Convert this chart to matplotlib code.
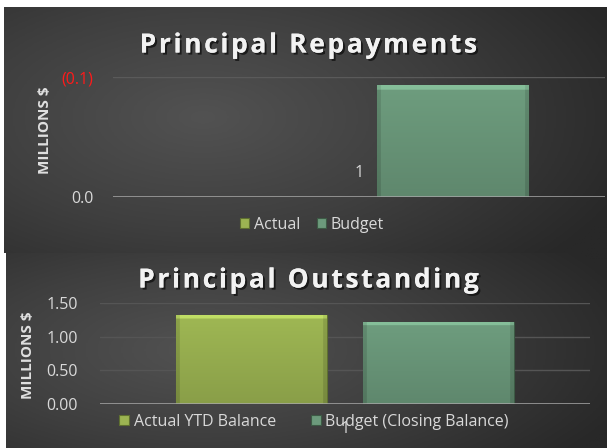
import numpy as np
import matplotlib
matplotlib.use("Agg")
import matplotlib.pyplot as plt
import matplotlib.patheffects as pe
from matplotlib.patches import Patch
from matplotlib.colors import LinearSegmentedColormap, to_rgb
from matplotlib.ticker import FuncFormatter

# ---- data (millions $) ----
categories = ["1"]
repay_series = ["Actual", "Budget"]
repay_values = [0.0, -0.0936]
outstanding_series = ["Actual YTD Balance", "Budget (Closing Balance)"]
outstanding_values = [1.32, 1.22]

lime = "#9cb452"
sage = "#6c9a7c"
bar_colors = [lime, sage]
edge_colors = ["#5f7030", "#3d5a45"]

plt.rcParams["font.family"] = ["Open Sans", "DejaVu Sans"]

W, H = 607, 448
fig = plt.figure(figsize=(W / 100, H / 100), dpi=100, facecolor="white")


def px_rect(x0, y0, x1, y1):
    # pixel box (top-left origin) -> figure fraction rect
    return [x0 / W, 1 - y1 / H, (x1 - x0) / W, (y1 - y0) / H]


def spaced(s):
    # widen the title a little, like the original's character spacing
    return "\u200a".join(s)


def panel(rect, cx, cy):
    ax = fig.add_axes(rect, zorder=0)
    ny, nx = 200, 400
    yy, xx = np.mgrid[0:1:ny * 1j, 0:1:nx * 1j]
    r = np.sqrt(((xx - cx) / 0.75) ** 2 + ((yy - cy) / 0.9) ** 2)
    cmap = LinearSegmentedColormap.from_list("bg", ["#525252", "#3f3f3f", "#282828"])
    ax.imshow(np.clip(r, 0, 1), cmap=cmap, vmin=0, vmax=1, aspect="auto",
              extent=(0, 1, 0, 1), origin="lower")
    ax.set_axis_off()
    return ax


def shade_bars(ax, bars, colors):
    for p, c in zip(bars, colors):
        h = p.get_height()
        if h == 0:
            continue
        x0, y0, w = p.get_x(), p.get_y(), p.get_width()
        ylo, yhi = min(y0, y0 + h), max(y0, y0 + h)
        ys = np.linspace(ylo, yhi, 120)
        t = np.abs(ys - y0) / abs(h)              # 0 at baseline, 1 at bar end
        u = np.linspace(0, 1, 160)
        edge = np.minimum(u, 1 - u)
        f = 0.88 + 0.14 * t[:, None] + 0 * u[None, :]
        f = np.where(t[:, None] > 0.95, f + 0.22, f)
        f = np.where(edge[None, :] < 0.02, f - 0.12, f)
        rgb = np.clip(np.array(to_rgb(c))[None, None, :] * f[:, :, None], 0, 1)
        im = ax.imshow(rgb, extent=(x0, x0 + w, ylo, yhi), origin="lower",
                       aspect="auto", zorder=3)
        im.set_clip_path(p)
        p.set_facecolor("none")


def legend_handles():
    return [Patch(facecolor=c, edgecolor=e, linewidth=0.8)
            for c, e in zip(bar_colors, edge_colors)]


title_fx = [pe.withSimplePatchShadow(offset=(1.5, -1.5), shadow_rgbFace="#111111", alpha=0.8),
            pe.Normal()]

# ---------------- top panel: Principal Repayments ----------------
panel(px_rect(4, 7, 607, 253), 0.33, 0.55)
ax1 = fig.add_axes(px_rect(113, 77.3, 605, 197.3), facecolor="none", zorder=2)
x = np.arange(len(categories))
off = 0.191
bw = 0.307
b1 = []
for i, (name, v) in enumerate(zip(repay_series, repay_values)):
    b = ax1.bar(x + (i - 0.5) * 2 * off, [v], bw, color=bar_colors[i], label=name,
                edgecolor=edge_colors[i], linewidth=0.8, zorder=3)
    b1.append(b)
ax1.set_xlim(-0.5, 0.5)
ax1.set_ylim(0, -0.1)
ax1.set_yticks([0, -0.1])
ax1.yaxis.set_major_formatter(FuncFormatter(
    lambda v, pos: "({:.1f})".format(abs(v)) if v < 0 else "{:.1f}".format(v)))
ax1.tick_params(axis="y", length=0, pad=14, labelsize=11.5, labelcolor="#d9d9d9")
for tk, v in zip(ax1.yaxis.get_major_ticks(), [0, -0.1]):
    if v < 0:
        tk.label1.set_color("#ff1a1a")
ax1.set_xticks([])
ax1.axhline(-0.1, color="#5a5a5a", lw=1, zorder=1)
ax1.axhline(0, color="#a8a8a8", lw=1.8, zorder=4)
for s in ax1.spines.values():
    s.set_visible(False)
ax1.text(x[0], -0.02, categories[0], ha="center", va="center", fontsize=11.5,
         color="#d9d9d9")
shade_bars(ax1, [bb[0] for bb in b1], bar_colors)
ax1.set_xlim(-0.5, 0.5)
ax1.set_ylim(0, -0.1)

fig.text(0.507, 1 - 45 / H, spaced("Principal Repayments"), ha="center", va="center",
         fontsize=19, fontweight="bold", color="#f2f2f2", path_effects=title_fx)
fig.text(45 / W, 1 - 130 / H, "MILLIONS $", rotation=90, ha="center", va="center",
         fontsize=11, fontweight="bold", color="#e0e0e0")
fig.legend(handles=legend_handles(), labels=repay_series, loc="center",
           bbox_to_anchor=(312 / W, 1 - 225 / H), ncol=2, frameon=False,
           fontsize=11.5, labelcolor="#d9d9d9", handlelength=0.6, handleheight=0.6,
           handletextpad=0.3, columnspacing=1.0)

# ---------------- bottom panel: Principal Outstanding ----------------
panel(px_rect(6, 253, 607, 448), 0.33, 0.5)
ax2 = fig.add_axes(px_rect(100, 302.7, 590, 404.3), facecolor="none", zorder=2)
b2 = []
for i, (name, v) in enumerate(zip(outstanding_series, outstanding_values)):
    b = ax2.bar(x + (i - 0.5) * 2 * off, [v], bw, color=bar_colors[i], label=name,
                edgecolor=edge_colors[i], linewidth=0.8, zorder=3)
    b2.append(b)
ax2.set_xlim(-0.5, 0.5)
ax2.set_ylim(0, 1.5)
ax2.set_yticks([0, 0.5, 1.0, 1.5])
ax2.yaxis.set_major_formatter(FuncFormatter(lambda v, pos: "{:.2f}".format(v)))
ax2.tick_params(axis="y", length=0, pad=16, labelsize=11.5, labelcolor="#d9d9d9")
ax2.set_xticks(x)
ax2.set_xticklabels(categories)
ax2.tick_params(axis="x", length=0, pad=12, labelsize=11.5, labelcolor="#d9d9d9")
for yv in [0.5, 1.0, 1.5]:
    ax2.axhline(yv, color="#555555", lw=1, zorder=1)
ax2.axhline(0, color="#a8a8a8", lw=1.8, zorder=4)
for s in ax2.spines.values():
    s.set_visible(False)
shade_bars(ax2, [bb[0] for bb in b2], bar_colors)
ax2.set_xlim(-0.5, 0.5)
ax2.set_ylim(0, 1.5)

fig.text(0.507, 1 - 280 / H, spaced("Principal Outstanding"), ha="center", va="center",
         fontsize=19, fontweight="bold", color="#f2f2f2", path_effects=title_fx)
fig.text(28 / W, 1 - 355 / H, "MILLIONS $", rotation=90, ha="center", va="center",
         fontsize=11, fontweight="bold", color="#e0e0e0")
fig.legend(handles=legend_handles(), labels=outstanding_series, loc="center",
           bbox_to_anchor=(314 / W, 1 - 422 / H), ncol=2, frameon=False,
           fontsize=11.5, labelcolor="#d9d9d9", handlelength=0.6, handleheight=0.6,
           handletextpad=0.3, columnspacing=2.2)

fig.savefig("out.png", dpi=100, facecolor="white")
